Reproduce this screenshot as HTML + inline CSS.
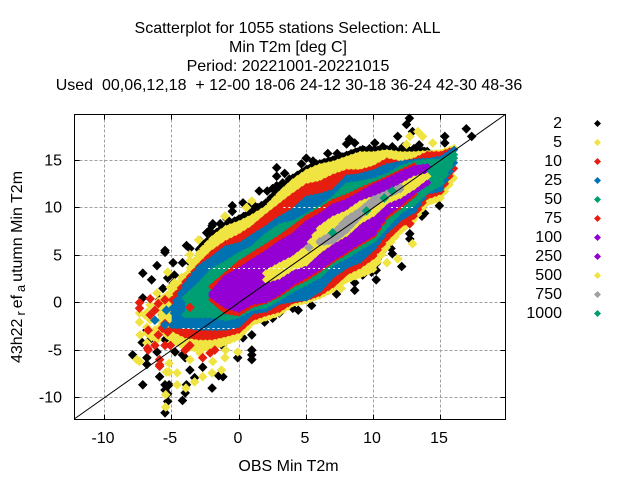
<!DOCTYPE html>
<html lang="en">
<head>
<meta charset="utf-8">
<title>Scatterplot for 1055 stations</title>
<style>
html,body{margin:0;padding:0;background:#fff;}
svg{display:block;}
text{font-family:"Liberation Sans",sans-serif;font-size:16px;fill:#000;white-space:pre;}
</style>
</head>
<body>
<svg id="chart" width="640" height="480" viewBox="0 0 640 480" xmlns="http://www.w3.org/2000/svg">
  <rect x="0" y="0" width="640" height="480" fill="#fff"/>
  <g text-anchor="middle">
    <text x="287.5" y="33">Scatterplot for 1055 stations Selection: ALL</text>
    <text x="288" y="52">Min T2m [deg C]</text>
    <text x="288" y="71">Period: 20221001-20221015</text>
    <text x="289" y="90" xml:space="preserve">Used  00,06,12,18  + 12-00 18-06 24-12 30-18 36-24 42-30 48-36</text>
  </g>
  <g id="grid"></g>
  <g id="marks"></g>
  <g id="axes"></g>
  <text x="288.5" y="471" text-anchor="middle">OBS Min T2m</text>
  <text transform="translate(22,267) rotate(-90)" text-anchor="middle">43h22<tspan font-size="12.8" dx="3" dy="3">r</tspan><tspan dx="3" dy="-3">ef</tspan><tspan font-size="12.8" dx="3" dy="3">a</tspan><tspan dx="3" dy="-3">utumn Min T2m</tspan></text>
  <g id="legend"></g>
</svg>
<script>
// Axis tick labels
const xTicks = [-10, -5, 0, 5, 10, 15];
const yTicks = [-10, -5, 0, 5, 10, 15];

// OBS columns shared by the envelope arrays below
const obsColumns = [-7,-6,-5,-4,-3,-2,-1,0,1,2,3,4,5,6,7,8,9,10,11,12,13,14,15,16];

// Legend categories
const legendLabels = ['2','5','10','25','50','75','100','250','500','750','1000'];

// Model value envelopes of each count class, per OBS column
const hi2 = [null,null,null,null,5.9,7.4,8.5,9.2,10.0,10.9,12.3,13.5,14.4,15.0,15.4,15.9,16.4,16.4,16.5,16.3,16.4,16.3,null,null];
const lo2 = [null,null,null,null,-4.9,-4.7,-4.2,-3.6,-2.1,-1.6,-1.1,-0.1,0.2,0.7,1.4,2.4,2.9,3.5,5.8,7.5,8.7,10.5,null,null];
const hi5 = [null,0.5,1.5,3.2,5.5,7.0,8.1,8.6,9.3,10.2,11.7,13.0,14.0,14.6,14.9,15.4,15.9,15.9,16.1,15.9,15.9,16.0,16.1,16.6];
const lo5 = [null,-3.0,-4.2,-5.0,-5.2,-5.0,-4.5,-3.9,-2.4,-1.9,-1.4,-0.4,-0.1,0.4,1.1,2.1,2.6,3.2,5.5,7.2,8.4,10.2,10.7,12.8];
const hi10 = [null,null,0.6,2.5,4.1,5.5,6.5,7.2,8.1,9.3,10.4,11.5,12.5,12.8,13.5,14.0,14.0,14.4,15.2,14.9,15.2,15.9,15.9,16.4];
const lo10 = [null,null,-3.0,-3.7,-3.9,-3.9,-3.6,-3.2,-1.9,-1.4,-1.0,-0.1,0.2,0.7,1.6,2.9,3.6,4.6,6.5,7.9,8.8,10.9,11.4,13.8];
const hi25 = [null,null,-0.3,2.1,3.9,4.9,6.0,6.3,7.2,8.1,9.1,9.9,11.2,11.5,11.9,13.4,13.6,14.0,14.6,14.9,15.1,15.2,15.4,16.4];
const lo25 = [null,null,-2.7,-2.7,-2.9,-2.9,-2.9,-2.6,-1.2,-1.0,-0.2,0.1,0.2,1.1,2.6,3.6,4.2,5.5,7.3,8.6,9.4,11.4,11.7,14.4];
const hi50 = [null,null,null,0.8,2.1,3.6,4.4,5.3,6.0,7.3,8.3,8.6,9.4,10.2,11.2,12.6,12.8,13.1,13.6,14.4,14.9,15.1,15.1,15.9];
const lo50 = [null,null,null,-1.6,-1.6,-1.6,-1.9,-1.6,-0.8,-0.6,0.2,1.1,1.8,2.6,3.9,4.6,5.5,6.3,7.9,9.4,10.2,11.5,12.3,14.9];
const hi75 = [null,null,null,null,null,2.0,3.2,4.4,5.3,6.2,7.1,8.1,9.2,10.0,10.9,11.4,12.1,12.7,13.3,14.0,14.7,null,null,null];
const lo75 = [null,null,null,null,null,0,-1.2,-1.4,-0.5,-0.1,0.6,1.6,2.3,3.2,4.2,5.1,6.0,6.8,8.8,9.9,11.1,null,null,null];
const hi100 = [null,null,null,null,null,1.3,2.9,3.7,4.6,5.5,6.5,7.3,8.6,9.4,10.4,10.9,11.7,12.5,13.1,13.8,14.4,14.6,null,null];
const lo100 = [null,null,null,null,null,0.4,-0.6,-1.0,-0.2,0,0.8,1.8,2.6,3.4,4.4,5.3,6.2,7.0,9.1,10.2,11.4,12.3,null,null];
const hi250 = [null,null,null,null,null,null,2.5,3.3,4.2,5.1,6.1,6.9,8.2,9.0,10.0,10.5,11.3,12.1,12.7,13.4,14.0,null,null,null];
const lo250 = [null,null,null,null,null,null,-0.2,-0.6,0.2,0.4,1.2,2.2,3.0,3.8,4.8,5.7,6.6,7.4,9.5,10.6,11.8,null,null,null];
const hi500 = [null,null,null,null,null,null,null,null,null,3.4,4.2,4.9,6.0,8.1,9.1,9.7,10.7,11.2,11.7,12.5,13.3,13.6,null,null];
const lo500 = [null,null,null,null,null,null,null,null,null,2.1,2.5,3.4,3.9,5.2,6.2,7.0,8.3,9.1,10.4,11.0,11.9,13.0,null,null];
const hi750 = [null,null,null,null,null,null,null,null,null,null,null,null,null,6.8,7.6,9.1,10.0,11.2,11.8,12.5,null,null,null,null];
const lo750 = [null,null,null,null,null,null,null,null,null,null,null,null,null,6.0,6.2,7.3,8.8,10.0,11.0,11.6,null,null,null,null];
const hi1000 = [];
const lo1000 = [];

// Isolated points of each class as [obs, model]
const spots2 = [[12.67,19.4],[12.45,18.75],[12.9,18.0],[16.9,18.3],[17.3,17.5],[15.3,17.5],[15.3,16.8],[11.8,17.5],[8.2,17.2],[8,16.7],[8.6,16.8],[7.3,15.7],[7.5,14.9],[9.2,16.1],[9.7,16.2],[10.1,16.8],[10.7,16.4],[11.4,16.4],[12.2,16.4],[13,16.2],[13.4,16.6],[13.8,15.9],[6.6,15.7],[5.0,15.2],[2.8,14.2],[2.8,13.3],[3.4,13.6],[-0.5,10.2],[-0.5,9.6],[-2,8.1],[-2.2,7.6],[-1.95,8.3],[-2.4,7.35],[-1.4,8.3],[-0.9,8.8],[0.3,10.5],[1.0,10.4],[1.4,10.0],[1.5,11.75],[2.1,11.75],[2.5,12.0],[2.8,12.3],[3.25,12.6],[3.75,13.0],[4.65,14.6],[5.75,14.6],[6.5,14.4],[5.5,14.9],[7,14.4],[-4.2,4.2],[-3.65,4.2],[-4.9,4.2],[-5.5,5.5],[-5.5,5.3],[-3.9,6.0],[-3.65,5.7],[-2.9,6.5],[-2.9,5.7],[-6.1,3.9],[-7.15,3.1],[-6.5,2.4],[-5.3,2.6],[-4.8,2.9],[-7.15,0.5],[-7.2,-4.2],[-6.85,-2.9],[-5.9,0.3],[-5.7,-1.3],[-6.6,-3.9],[-5.5,-3.9],[-6.1,-5.2],[-4.75,-5.2],[-2.5,-4.5],[-1.25,-4.5],[-5.65,1.5],[-4.9,2.05],[14.9,10.2],[13.6,9.1],[13.8,9.4],[12.7,7.25],[12.7,6.7],[11.4,5.15],[11.3,5.7],[10.2,5.15],[10.2,4.1],[10.2,3.4],[10.2,2.4],[9.85,3.2],[9.2,2.9],[8.6,1.3],[8.6,2.1],[12.1,3.8],[7.25,0.9],[6.6,1.3],[6,1.8],[5.4,-0.3],[4.4,-0.8],[4,-0.6],[3,-1.1],[2.5,-1.65],[1.9,-2.05],[0.95,-3.4],[0.95,-5.5],[0.95,-5.0],[0.95,-6.0],[-0.1,-5.8],[0.3,-3.7],[-7.15,-8.65],[-5.5,-8.65],[-5.5,-9.2],[-5.5,-11.6],[-5.3,-10.4],[-5.9,-7.8],[-3.65,-7.1],[-4.2,-10.3],[-4.0,-9.5],[-3.9,-8.65],[-3.3,-7.9],[-2.7,-6.8],[-2.0,-9],[-1.2,-7.8],[-1.5,-7.7],[-6.85,-5.8],[-6.85,-6.5],[-7.9,-5.5],[-4.2,-5.5],[-4.0,-5.8],[-5.2,-8.65],[-5.3,-9.6]];
const spots5 = [[-7.6,-6.0],[-7.4,-6.2],[-5.2,-6.4],[-5.4,-7.3],[-5.2,-7.3],[-4.6,-7.4],[-4.6,-8.65],[-3.95,-9],[-5.45,-9.7],[-5.45,-11],[-3.3,-8.35],[-2.7,-7.8],[-2,-7.4],[-1.3,-7.1],[-0.1,-5.2],[-1.95,-6.2],[-3.65,-6],[-2.9,-5.3],[-1.05,-5.8],[-3,6.6],[-1.05,9.1],[0.55,10],[0.95,10.7],[-3.65,5.05],[12.45,16.65],[13.65,17.5],[12.7,17.5],[13.3,18],[14.4,16.8],[12.9,6.2],[11.8,4.6],[11,4.2],[7.6,1.5],[-7.4,-2.05],[-6.85,-2.6],[-6.85,-3.2],[-7.4,-1.1],[-6.1,1.0],[-5.3,3.2],[-5.1,1.6],[-4.8,2.1],[-4.25,2.65],[-3.65,4.4],[-5.5,-2.05],[-6.1,-3.9],[-4.8,-3.9],[-6.8,-1.0],[-6.5,-3.6],[-6.85,-4.25],[-5,-4.25],[-1.95,-5],[-1.65,-4.25],[-1,-5],[-7.35,-3.4],[-6.6,-1.8],[-6.25,-2.9],[-5.9,-0.8],[-6.6,-0.25],[-7,-1.3]];
const spots10 = [[-7.4,0],[-7.4,-0.6],[-6,-0.1],[-5.5,-2.2],[-6.25,-4.5],[-5.3,-3.1],[-6.8,-4.8],[-6.6,0.4],[-5.9,-6.55],[-5.9,-6.0],[-2.7,-5.8],[12.7,8.3],[10.2,5.7],[-6.75,-5],[-5.9,-6.7],[-5.5,-4.5],[-3.65,-4.5],[-4,-5],[-1.8,-5],[-2.15,-5.3],[-6.75,-2.9],[-6.25,-0.8],[-5.7,-2.7],[-6.6,-1.3],[-5.5,0.3],[-6,-3.4],[-5.1,-4.5]];
const spots25 = [[-6.25,-1.85],[-5.4,-0.8],[-4.8,-1.1],[-5.5,-2.35]];
const spots50 = [];
const spots75 = [[-3.65,-0.5]];
const spots100 = [];
const spots250 = [];
const spots500 = [];
const spots750 = [[5.2,5.8]];
const spots1000 = [[6.96,7.35],[9.48,9.65],[10.8,11.0],[11.4,11.75]];

const classColors = ['#000000','#f0e442','#e51e10','#0072b2','#009e73','#e51e10','#9400d3','#9400d3','#f0e442','#a0a0a0','#009e73'];
const hiSeries = [hi2,hi5,hi10,hi25,hi50,hi75,hi100,hi250,hi500,hi750,hi1000];
const loSeries = [lo2,lo5,lo10,lo25,lo50,lo75,lo100,lo250,lo500,lo750,lo1000];
const spotSeries = [spots2,spots5,spots10,spots25,spots50,spots75,spots100,spots250,spots500,spots750,spots1000];

// Axis mapping
const xScale = v => 239.0 + 13.45 * v;
const yScale = v => 302.6 - 9.5 * v;
const plotLeft = 74.5, plotRight = 505.5, plotTop = 114.5, plotBottom = 419.5;
const NS = 'http://www.w3.org/2000/svg';
const diamond = (cx, cy, r) => 'M' + (cx - r).toFixed(1) + ' ' + cy.toFixed(1) + 'L' + cx.toFixed(1) + ' ' + (cy - r).toFixed(1) + 'L' + (cx + r).toFixed(1) + ' ' + cy.toFixed(1) + 'L' + cx.toFixed(1) + ' ' + (cy + r).toFixed(1) + 'Z';
function make(tag, parent, attrs) {
  const el = document.createElementNS(NS, tag);
  for (const k in attrs) el.setAttribute(k, attrs[k]);
  parent.appendChild(el);
  return el;
}

const grid = document.getElementById('grid');
const marks = document.getElementById('marks');
const axes = document.getElementById('axes');
const legend = document.getElementById('legend');

// Grid and ticks
xTicks.forEach(t => {
  const px = Math.floor(xScale(t)) + 0.5;
  const g = make('line', grid, {x1: px, x2: px, y1: plotTop, y2: plotBottom, stroke: '#a0a0a0', 'stroke-dasharray': '3 2'});
  
  
  const tb = make('line', axes, {x1: px, x2: px, y1: plotBottom, y2: plotBottom - 5, stroke: '#000'});
  
  
  const tt = make('line', axes, {x1: px, x2: px, y1: plotTop, y2: plotTop + 5, stroke: '#000'});
  
  
  const lab = make('text', axes, {x: px - 1.5, y: 443, 'text-anchor': 'middle'});
  lab.textContent = t;
  
  
});
yTicks.forEach(t => {
  const py = Math.floor(yScale(t)) + 0.5;
  const g = make('line', grid, {x1: plotLeft, x2: plotRight, y1: py, y2: py, stroke: '#a0a0a0', 'stroke-dasharray': '3 2'});
  
  
  const tl = make('line', axes, {x1: plotLeft, x2: plotLeft + 5, y1: py, y2: py, stroke: '#000'});
  
  
  const tr = make('line', axes, {x1: plotRight, x2: plotRight - 5, y1: py, y2: py, stroke: '#000'});
  
  
  const lab = make('text', axes, {x: 62, y: py + 5, 'text-anchor': 'end'});
  lab.textContent = t;
  
  
});

// Density classes, drawn from lowest to highest count
const markerRadius = 4;
const spotRadius = 4.8;
const edgeInset = 3;
const edgeSteps = [0, 1 / 3, 2 / 3];
legendLabels.forEach((label, c) => {
  const color = classColors[c], hi = hiSeries[c], lo = loSeries[c], spots = spotSeries[c];
  const top = [], bottom = [];
  obsColumns.forEach((x, i) => {
    if (hi[i] == null || lo[i] == null) return;
    top.push([xScale(x), yScale(hi[i])]);
    bottom.push([xScale(x), yScale(lo[i])]);
  });
  if (top.length) {
    const pts = top.concat(bottom.slice().reverse());
    const band = make('path', marks, {fill: color, d: 'M' + pts.map(p => p[0].toFixed(1) + ' ' + p[1].toFixed(1)).join('L') + 'Z'});
    
    
    [[top, edgeInset], [bottom, -edgeInset]].forEach(edge => {
      const line = edge[0], inset = edge[1];
      line.forEach((p, k) => {
        const next = line[k + 1] || p;
        edgeSteps.forEach(f => {
          if (f > 0 && !line[k + 1]) return;
          const cx = p[0] + (next[0] - p[0]) * f;
          const cy = p[1] + (next[1] - p[1]) * f + inset;
          const m = make('path', marks, {fill: color, d: diamond(cx, cy, markerRadius)});
          
          
        });
      });
    });
  }
  spots.forEach(s => {
    const m = make('path', marks, {fill: color, d: diamond(xScale(s[0]), yScale(s[1]), spotRadius)});
    
    
  });
});

// White dashed streaks crossing the dense area, [model, obs start, obs end]
const whiteStreaks = [[3.6,-2.3,7.5],[-2.7,-4.2,-0.3],[10,3.3,6.5],[10,11.3,13]];
whiteStreaks.forEach(s => {
  const py = Math.floor(yScale(s[0])) + 0.5;
  const w = make('line', marks, {x1: xScale(s[1]), x2: xScale(s[2]), y1: py, y2: py, stroke: '#fff', 'stroke-dasharray': '2 3'});
  
  
});

// Diagonal reference line y = x
const diagonalEnds = [-12.25, 19.8];
const diag = make('line', marks, {x1: xScale(diagonalEnds[0]), y1: yScale(diagonalEnds[0]), x2: xScale(diagonalEnds[1]), y2: yScale(diagonalEnds[1]), stroke: '#000', 'stroke-width': 1});



// Plot border
const border = make('rect', axes, {x: plotLeft, y: plotTop, width: plotRight - plotLeft, height: plotBottom - plotTop, fill: 'none', stroke: '#000'});



// Legend
legendLabels.forEach((label, i) => {
  const ly = 123 + 19 * i;
  const t = make('text', legend, {x: 562, y: ly + 5, 'text-anchor': 'end'});
  t.textContent = label;
  
  
  const m = make('path', legend, {fill: classColors[i], d: diamond(597.5, ly + 0.5, 3.5)});
  
  
});
</script>
</body>
</html>
